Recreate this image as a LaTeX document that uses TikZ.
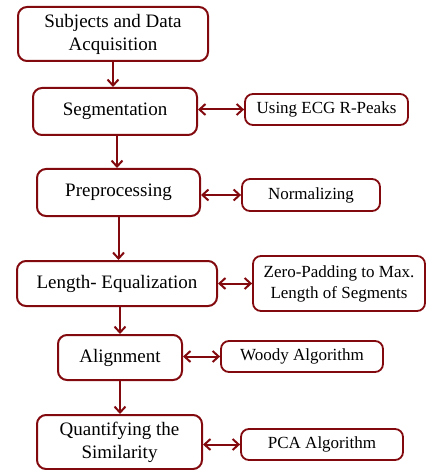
\documentclass[tikz,border=0pt]{standalone}
\usepackage{fontspec}
\setmainfont{Liberation Serif}
\usetikzlibrary{arrows.meta}
\definecolor{dred}{RGB}{130,10,15}
\begin{document}
\begin{tikzpicture}[x=1pt,y=-1pt,
  mainbox/.style={draw=dred,line width=2pt,rounded corners=9pt,fill=white,align=center,
    font=\fontsize{19}{23}\selectfont,inner sep=0pt},
  sidebox/.style={draw=dred,line width=1.8pt,rounded corners=8pt,fill=white,align=center,
    font=\fontsize{17}{21}\selectfont,inner sep=0pt},
  arr/.style={draw=dred,line width=2pt,-{Straight Barb[length=6pt,width=11pt,line width=2pt]}},
  darr/.style={draw=dred,line width=2pt,{Straight Barb[length=6pt,width=11pt,line width=2pt]}-{Straight Barb[length=6pt,width=11pt,line width=2pt]}}]
\useasboundingbox (0,0) rectangle (426,470);
\node[mainbox,minimum width=190pt,minimum height=54pt] (acq) at (113,34) {Subjects and Data\\Acquisition};
\node[mainbox,minimum width=164pt,minimum height=47pt] (seg) at (115,111.5) {Segmentation};
\node[mainbox,minimum width=163pt,minimum height=47pt] (pre) at (118.5,192.5) {Preprocessing};
\node[mainbox,minimum width=200pt,minimum height=45pt] (len) at (117,283.5) {Length- Equalization};
\node[mainbox,minimum width=124pt,minimum height=45pt] (ali) at (120,357.5) {Alignment};
\node[mainbox,minimum width=165pt,minimum height=54pt] (qua) at (119.5,442) {Quantifying the\\Similarity};
\node[sidebox,minimum width=163pt,minimum height=31pt] (sa) at (326.5,109.5) {Using ECG R-Peaks};
\node[sidebox,minimum width=138pt,minimum height=32pt] (sb) at (311,195) {Normalizing};
\node[sidebox,minimum width=172pt,minimum height=55pt] (sc) at (339,283.5) {Zero-Padding to Max.\\Length of Segments};
\node[sidebox,minimum width=162pt,minimum height=31pt] (sd) at (302,356.5) {Woody Algorithm};
\node[sidebox,minimum width=162pt,minimum height=31pt] (se) at (322,444.5) {PCA Algorithm};
\draw[arr] (acq.south) -- (acq.south |- seg.north);
\draw[arr] ([xshift=2pt]seg.south) -- ([xshift=2pt]seg.south |- pre.north);
\draw[arr] (pre.south) -- (pre.south |- len.north);
\draw[arr] ([xshift=3pt]len.south) -- ([xshift=3pt]len.south |- ali.north);
\draw[arr] (ali.south) -- (ali.south |- qua.north);
\draw[darr] (seg.east |- sa.west) -- (sa.west);
\draw[darr] (pre.east |- sb.west) -- (sb.west);
\draw[darr] (len.east |- sc.west) -- (sc.west);
\draw[darr] (ali.east |- sd.west) -- (sd.west);
\draw[darr] (qua.east |- se.west) -- (se.west);
\end{tikzpicture}
\end{document}
